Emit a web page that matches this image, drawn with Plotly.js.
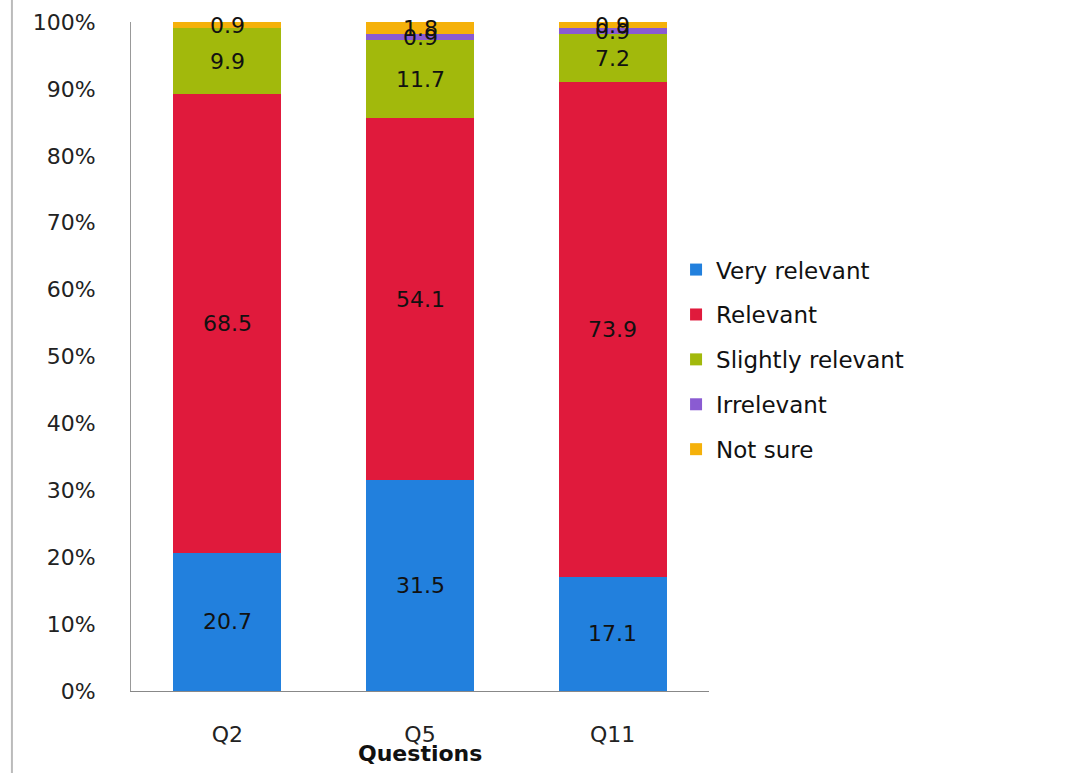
<!DOCTYPE html>
<html>
<head>
<meta charset="utf-8">
<script src="https://cdn.plot.ly/plotly-3.0.1.min.js"></script>
<style>
html,body{margin:0;padding:0;background:#fff;}
#chart{width:1073px;height:773px;}
</style>
</head>
<body>
<div id="chart"></div>
<script>
var categories = ['Q2', 'Q5', 'Q11'];
var seriesNames = ['Very relevant', 'Relevant', 'Slightly relevant', 'Irrelevant', 'Not sure'];
var veryRelevant = [20.7, 31.5, 17.1];
var relevant = [68.5, 54.1, 73.9];
var slightlyRelevant = [9.9, 11.7, 7.2];
var irrelevant = [0, 0.9, 0.9];
var notSure = [0.9, 1.8, 0.9];
var yTickVals = [0, 10, 20, 30, 40, 50, 60, 70, 80, 90, 100];
var yTickText = ['0%', '10%', '20%', '30%', '40%', '50%', '60%', '70%', '80%', '90%', '100%'];
var xAxisTitle = 'Questions';

var FONT = '"DejaVu Sans", Verdana, sans-serif';
var colors = ['#2280dd', '#e01a3c', '#a2b90c', '#8a5bd2', '#f5b10a'];
var series = [veryRelevant, relevant, slightlyRelevant, irrelevant, notSure];

var traces = series.map(function (vals, i) {
  return {
    type: 'bar',
    name: seriesNames[i],
    x: categories,
    y: vals,
    legendgroup: 'g' + i,
    marker: {color: colors[i]},
    hoverinfo: 'name+y'
  };
});

// data labels at the middle of each stacked segment
var annotations = [];
var base = categories.map(function () { return 0; });
series.forEach(function (vals) {
  vals.forEach(function (v, j) {
    if (v > 0) {
      annotations.push({
        x: categories[j], y: base[j] + v / 2, xref: 'x', yref: 'y',
        text: v.toFixed(1), showarrow: false,
        font: {family: FONT, size: 22, color: '#111'}
      });
    }
    base[j] += v;
  });
});
// x-axis title placed close under the tick labels, as in the original
annotations.push({
  x: 0.5, y: -0.093, xref: 'paper', yref: 'paper',
  xanchor: 'center', yanchor: 'middle',
  text: '<b>' + xAxisTitle + '</b>', showarrow: false,
  font: {family: FONT, size: 22, color: '#111'}
});

var layout = {
  width: 1073,
  height: 773,
  barmode: 'stack',
  bargap: 0.44,
  paper_bgcolor: '#ffffff',
  plot_bgcolor: '#ffffff',
  margin: {l: 131, r: 364, t: 22, b: 82, pad: 0},
  font: {family: FONT, size: 22, color: '#222'},
  xaxis: {
    showgrid: false,
    showline: true,
    linecolor: '#888',
    linewidth: 1,
    ticks: '',
    ticklabelstandoff: 24,
    tickfont: {family: FONT, size: 22, color: '#222'}
  },
  yaxis: {
    range: [0, 100],
    tickvals: yTickVals,
    ticktext: yTickText,
    showgrid: false,
    zeroline: false,
    showline: true,
    linecolor: '#999',
    linewidth: 1,
    ticks: '',
    ticklen: 0,
    ticklabelstandoff: 30,
    tickfont: {family: FONT, size: 22, color: '#222'}
  },
  legend: {
    x: 0.943,
    xanchor: 'left',
    y: 0.662,
    yanchor: 'top',
    traceorder: 'grouped',
    tracegroupgap: 12,
    font: {family: FONT, size: 23, color: '#111'},
    bgcolor: 'rgba(0,0,0,0)'
  },
  showlegend: true,
  annotations: annotations,
  shapes: [{
    type: 'line', xref: 'paper', yref: 'paper',
    x0: -0.206, x1: -0.206, y0: -0.125, y1: 1.035,
    line: {color: '#bbb', width: 2}
  }]
};

Plotly.newPlot('chart', traces, layout, {displayModeBar: false, staticPlot: true});
</script>
</body>
</html>
